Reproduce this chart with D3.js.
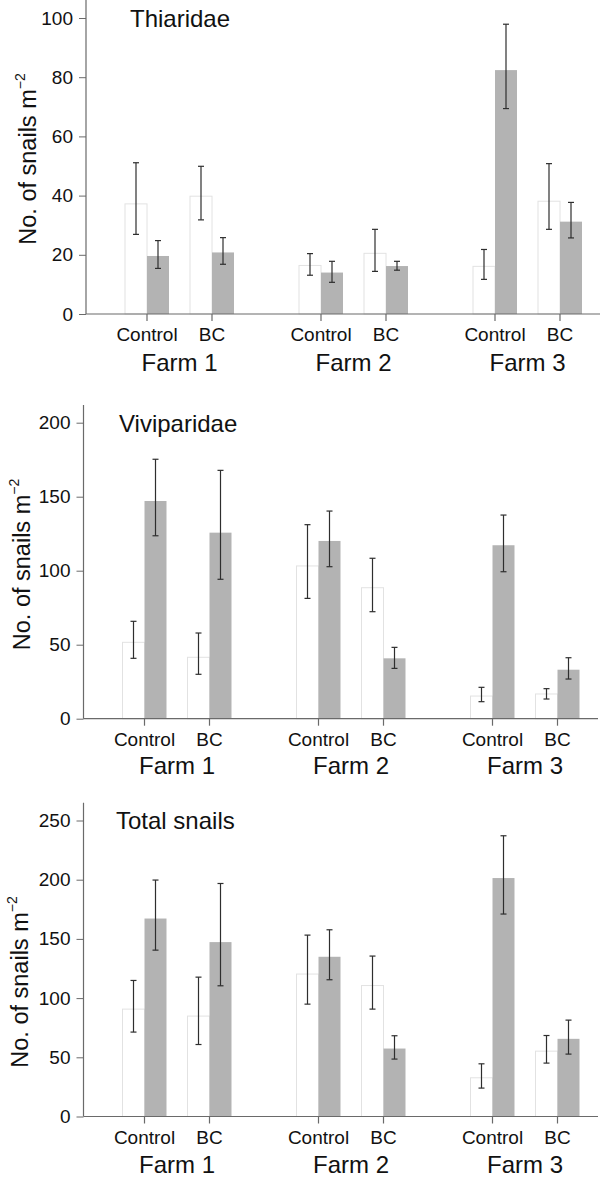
<!DOCTYPE html>
<html>
<head>
<meta charset="utf-8">
<script src="https://cdn.jsdelivr.net/npm/d3@7"></script>
<style>
  html, body { margin: 0; padding: 0; background: #fff; }
  svg { display: block; font-family: "Liberation Sans", Arial, Helvetica, sans-serif; }
</style>
</head>
<body>
<svg id="chart" width="600" height="1178"></svg>
<script>
// ---------- DATA ----------
const farms = ["Farm 1", "Farm 2", "Farm 3"];
const treatments = ["Control", "BC"];
const seriesKeys = ["open", "filled"];
const panelTitles = ["Thiaridae", "Viviparidae", "Total snails"];

// order: F1 Control, F1 BC, F2 Control, F2 BC, F3 Control, F3 BC
const thiaridaeOpen     = [37.2, 39.8, 16.4, 20.5, 16.1, 38.1];
const thiaridaeOpenLo   = [26.9, 31.8, 13.1, 14.4, 11.7, 28.6];
const thiaridaeOpenHi   = [51.1, 49.9, 20.4, 28.6, 21.8, 50.8];
const thiaridaeFilled   = [19.6, 20.8, 14.0, 16.2, 82.4, 31.2];
const thiaridaeFilledLo = [15.4, 16.8, 10.7, 14.8, 69.4, 25.7];
const thiaridaeFilledHi = [24.8, 25.8, 17.8, 17.8, 97.9, 37.7];

const viviparidaeOpen     = [51.6, 41.5, 103.2, 88.5, 15.3, 16.7];
const viviparidaeOpenLo   = [40.8, 30.0, 81.3, 72.3, 11.5, 13.3];
const viviparidaeOpenHi   = [65.8, 57.9, 131.1, 108.4, 21.2, 20.3];
const viviparidaeFilled   = [147.1, 125.7, 120.1, 40.8, 117.2, 33.1];
const viviparidaeFilledLo = [123.6, 94.2, 102.7, 34.0, 99.3, 26.8];
const viviparidaeFilledHi = [175.3, 167.8, 140.3, 48.2, 137.6, 41.2];

const totalOpen     = [90.7, 84.8, 120.3, 110.6, 32.7, 55.2];
const totalOpenLo   = [71.3, 60.8, 94.9, 90.7, 24.0, 45.1];
const totalOpenHi   = [114.9, 117.7, 153.2, 135.5, 44.5, 68.4];
const totalFilled   = [167.2, 147.3, 134.9, 57.4, 201.4, 65.6];
const totalFilledLo = [140.5, 110.4, 115.5, 48.5, 171.0, 52.7];
const totalFilledHi = [199.7, 196.8, 157.7, 68.2, 237.1, 81.4];

const thiaridaeTicks   = [0, 20, 40, 60, 80, 100];
const viviparidaeTicks = [0, 50, 100, 150, 200];
const totalTicks       = [0, 50, 100, 150, 200, 250];

// ---------- LAYOUT (positions / sizes only) ----------
const layout = [
  {axisX: 86,   y0: 314,    yTop: 0,     xEnd: 600, titleX: 130, titleY: 27,    labX: 36, labY: 159,   farmDy: 57},
  {axisX: 83.5, y0: 718.7,  yTop: 405,   xEnd: 598, titleX: 119, titleY: 431.7, labX: 30, labY: 564.5, farmDy: 55},
  {axisX: 83.5, y0: 1116.5, yTop: 802.7, xEnd: 598, titleX: 116, titleY: 829.3, labX: 28, labY: 982,   farmDy: 56}
];
const tickSpan = 296;

const panels = [
  {title: panelTitles[0], ticks: thiaridaeTicks,
   open: [thiaridaeOpen, thiaridaeOpenLo, thiaridaeOpenHi],
   filled: [thiaridaeFilled, thiaridaeFilledLo, thiaridaeFilledHi]},
  {title: panelTitles[1], ticks: viviparidaeTicks,
   open: [viviparidaeOpen, viviparidaeOpenLo, viviparidaeOpenHi],
   filled: [viviparidaeFilled, viviparidaeFilledLo, viviparidaeFilledHi]},
  {title: panelTitles[2], ticks: totalTicks,
   open: [totalOpen, totalOpenLo, totalOpenHi],
   filled: [totalFilled, totalFilledLo, totalFilledHi]}
];

const svg = d3.select("#chart");
const axisColor = "#6a6a6a";

panels.forEach((p, pi) => {
  const L = layout[pi];
  const g = svg.append("g");
  const tmax = p.ticks[p.ticks.length - 1];
  const y = d3.scaleLinear().domain([0, tmax]).range([L.y0, L.y0 - tickSpan]);
  const xFarm = d3.scalePoint().domain(farms).range([L.axisX + 93.5, L.axisX + 441.5]);
  const xTreat = d3.scalePoint().domain(treatments).range([-32.5, 32.5]);
  const xSeries = d3.scaleBand().domain(seriesKeys).range([-22, 22]);

  const rows = [];
  for (let i = 0; i < 6; i++) {
    const farm = farms[Math.floor(i / 2)], treat = treatments[i % 2];
    seriesKeys.forEach(s => {
      const arr = s === "open" ? p.open : p.filled;
      rows.push({farm, treat, s, v: arr[0][i], lo: arr[1][i], hi: arr[2][i]});
    });
  }
  const tickX = d => xFarm(d.farm) + xTreat(d.treat);

  // bars
  g.selectAll("rect.bar").data(rows).join("rect")
    .attr("class", "bar")
    .attr("x", d => tickX(d) + xSeries(d.s))
    .attr("width", xSeries.bandwidth())
    .attr("y", d => y(d.v))
    .attr("height", d => y(0) - y(d.v))
    .attr("fill", d => d.s === "open" ? "#ffffff" : "#b3b3b3")
    .attr("stroke", d => d.s === "open" ? "#e2e2e2" : "none")
    .attr("stroke-width", 1);

  // error bars
  const eb = g.selectAll("g.err").data(rows).join("g").attr("class", "err")
    .attr("stroke", "#2e2e2e").attr("stroke-width", 1.2);
  const cx = d => tickX(d) + xSeries(d.s) + xSeries.bandwidth() / 2;
  eb.append("line").attr("x1", cx).attr("x2", cx).attr("y1", d => y(d.lo)).attr("y2", d => y(d.hi));
  eb.append("line").attr("x1", d => cx(d) - 3).attr("x2", d => cx(d) + 3).attr("y1", d => y(d.hi)).attr("y2", d => y(d.hi));
  eb.append("line").attr("x1", d => cx(d) - 3).attr("x2", d => cx(d) + 3).attr("y1", d => y(d.lo)).attr("y2", d => y(d.lo));

  // y axis
  const yAxis = d3.axisLeft(y).tickValues(p.ticks).tickSize(7).tickPadding(6).tickSizeOuter(0);
  const ya = g.append("g").attr("transform", `translate(${L.axisX},0)`).call(yAxis);
  ya.select(".domain").remove();
  ya.selectAll(".tick line").attr("stroke", axisColor);
  ya.selectAll(".tick text").attr("fill", "#111").attr("font-size", 19)
    .attr("font-family", "Liberation Sans, Arial, sans-serif");
  g.append("line").attr("x1", L.axisX).attr("x2", L.axisX)
    .attr("y1", L.yTop).attr("y2", L.y0).attr("stroke", axisColor).attr("stroke-width", 1.2);

  // x axis
  g.append("line").attr("x1", L.axisX).attr("x2", L.xEnd)
    .attr("y1", L.y0).attr("y2", L.y0).attr("stroke", axisColor).attr("stroke-width", 1.2);
  const tickRows = [];
  farms.forEach(f => treatments.forEach(t => tickRows.push({farm: f, treat: t})));
  g.selectAll("line.xt").data(tickRows).join("line").attr("class", "xt")
    .attr("x1", tickX).attr("x2", tickX).attr("y1", L.y0).attr("y2", L.y0 + 7)
    .attr("stroke", axisColor).attr("stroke-width", 1.2);
  g.selectAll("text.xl").data(tickRows).join("text").attr("class", "xl")
    .attr("x", tickX).attr("y", L.y0 + 27).attr("text-anchor", "middle")
    .attr("font-size", 19).attr("fill", "#111").text(d => d.treat);
  g.selectAll("text.fl").data(farms).join("text").attr("class", "fl")
    .attr("x", d => xFarm(d)).attr("y", L.y0 + L.farmDy).attr("text-anchor", "middle")
    .attr("font-size", 24).attr("fill", "#111").text(d => d);

  // title
  g.append("text").attr("x", L.titleX).attr("y", L.titleY)
    .attr("font-size", 24).attr("fill", "#111").text(p.title);

  // y label
  const yl = g.append("text")
    .attr("transform", `translate(${L.labX},${L.labY}) rotate(-90)`)
    .attr("text-anchor", "middle").attr("font-size", 23.5).attr("fill", "#111");
  yl.append("tspan").text("No. of snails m");
  yl.append("tspan").attr("font-size", 14).attr("dy", -11).text("\u22122");
});
</script>
</body>
</html>
